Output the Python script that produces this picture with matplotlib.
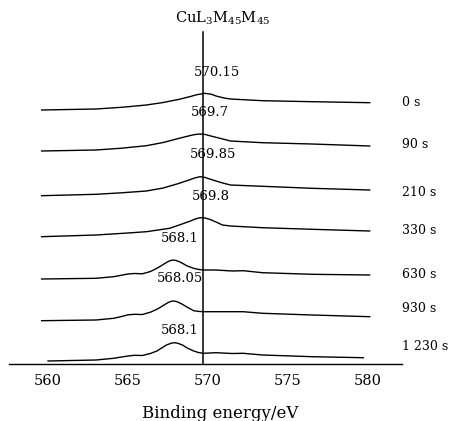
import numpy as np
import matplotlib
matplotlib.use("Agg")
import matplotlib.pyplot as plt

plt.rcParams['font.family'] = 'DejaVu Serif'
plt.rcParams['mathtext.fontset'] = 'dejavuserif'

# sputter times and the stacked AES spectra (a.u., offsets included)
times = ['0 s', '90 s', '210 s', '330 s', '630 s', '930 s', '1 230 s']

e_0 = [559.6, 563.0, 564.6, 566.15, 567.2, 568.2, 568.9, 569.3, 569.8, 570.2, 570.5, 571.0, 571.4,
       573.4, 576.5, 580.1]
i_0 = [254.0, 255.0, 256.7, 259.0, 261.5, 264.7, 267.5, 269.3, 270.7, 269.8, 268.0, 266.0, 265.0,
       263.3, 262.3, 261.3]

e_90 = [559.6, 563.0, 564.6, 566.15, 567.2, 568.2, 568.9, 569.2, 569.5, 569.8, 570.1, 570.8, 571.4,
        573.4, 576.5, 580.1]
i_90 = [213.0, 214.0, 215.8, 218.3, 221.5, 225.7, 228.5, 229.5, 230.0, 229.6, 228.3, 225.5, 223.0,
        221.3, 220.0, 218.0]

e_210 = [559.6, 563.0, 564.6, 566.15, 567.2, 568.2, 568.9, 569.2, 569.5, 569.8, 570.1, 570.8, 571.4,
         573.4, 576.5, 580.1]
i_210 = [168.3, 169.7, 171.2, 173.0, 176.0, 180.7, 184.5, 186.2, 187.3, 186.6, 185.0, 181.5, 179.0,
         177.7, 175.7, 174.0]

e_330 = [559.6, 563.0, 565.0, 566.15, 567.6, 568.2, 568.9, 569.2, 569.5, 569.8, 570.1, 570.5, 570.9,
         571.4, 573.4, 576.5, 580.1]
i_330 = [127.3, 129.0, 131.0, 132.3, 135.7, 139.0, 143.0, 145.0, 146.3, 146.0, 144.7, 142.0, 139.0,
         138.0, 136.3, 134.7, 133.0]

e_630 = [559.6, 563.0, 564.1, 564.6, 565.0, 565.4, 565.9, 566.4, 566.8, 567.1, 567.4, 567.6, 567.8,
         568.0, 568.2, 568.4, 568.7, 569.1, 569.4, 569.7, 570.5, 571.5, 572.2, 573.4, 576.5, 580.1]
i_630 = [85.0, 85.7, 87.3, 88.8, 90.0, 90.5, 90.2, 92.5, 95.7, 98.5, 101.5, 103.2, 104.0,
         103.5, 102.3, 100.7, 98.0, 95.7, 94.6, 94.0, 94.0, 93.0, 93.3, 91.3, 89.7, 89.0]

e_930 = [559.6, 563.0, 564.1, 564.6, 565.0, 565.4, 565.9, 566.4, 566.8, 567.1, 567.4, 567.6, 567.8,
         568.0, 568.2, 568.4, 568.7, 569.1, 569.4, 569.7, 572.2, 573.4, 576.5, 580.1]
i_930 = [43.3, 44.0, 45.7, 47.5, 49.2, 49.7, 49.5, 51.8, 54.7, 57.5, 60.5, 62.2, 63.0,
         62.6, 61.3, 59.7, 56.8, 53.3, 52.6, 52.3, 52.3, 50.7, 49.0, 47.3]

e_1230 = [560.0, 563.0, 564.1, 564.6, 565.0, 565.4, 565.9, 566.4, 566.8, 567.1, 567.4, 567.7, 567.9,
          568.1, 568.4, 568.7, 569.1, 569.4, 569.7, 570.5, 571.5, 572.2, 573.4, 576.5, 579.7]
i_1230 = [3.0, 4.0, 5.7, 7.0, 8.0, 8.7, 8.5, 10.5, 13.0, 16.0, 19.0, 20.8, 21.3,
          20.8, 19.0, 16.0, 13.0, 11.5, 10.7, 11.3, 10.5, 10.7, 9.0, 7.3, 6.3]

energies = [e_0, e_90, e_210, e_330, e_630, e_930, e_1230]
intensities = [i_0, i_90, i_210, i_330, i_630, i_930, i_1230]

# peak position labels
peak_labels = ['570.15', '569.7', '569.85', '569.8', '568.1', '568.05', '568.1']
peak_x = [570.54, 570.1, 570.29, 570.17, 568.23, 568.23, 568.23]
peak_y = [292, 251, 209, 167, 126, 85, 34]
time_y = [262, 219, 172, 133, 89, 55, 18]

ref_energy = 569.7

fig = plt.figure(figsize=(4.51, 4.21), dpi=100)
ax = fig.add_axes([9.3 / 451, 57 / 421, 392.7 / 451, 364 / 421])

for e, i in zip(energies, intensities):
    ax.plot(e, i, color='black', lw=1.0)

ax.plot([ref_energy, ref_energy], [0, 332], color='black', lw=1.1)

for lab, x, y in zip(peak_labels, peak_x, peak_y):
    ax.text(x, y, lab, ha='center', va='center', fontsize=9.5)

for lab, y in zip(times, time_y):
    ax.text(582.1, y, lab, ha='left', va='center', fontsize=9, clip_on=False)

ax.text(570.9, 346, r'CuL$_3$M$_{45}$M$_{45}$', ha='center', va='center', fontsize=10.5)

ax.set_xlim(557.58, 582.12)
ax.set_ylim(0, 364)
ax.set_xticks([560, 565, 570, 575, 580])
ax.tick_params(axis='x', length=0, pad=7, labelsize=10.5)
ax.set_yticks([])
for s in ['top', 'right', 'left']:
    ax.spines[s].set_visible(False)
ax.spines['bottom'].set_linewidth(1.0)
ax.patch.set_visible(False)

fig.text(220 / 451, 1 - 413 / 421, 'Binding energy/eV', ha='center', va='center', fontsize=12)

fig.savefig('out.png', dpi=100)
